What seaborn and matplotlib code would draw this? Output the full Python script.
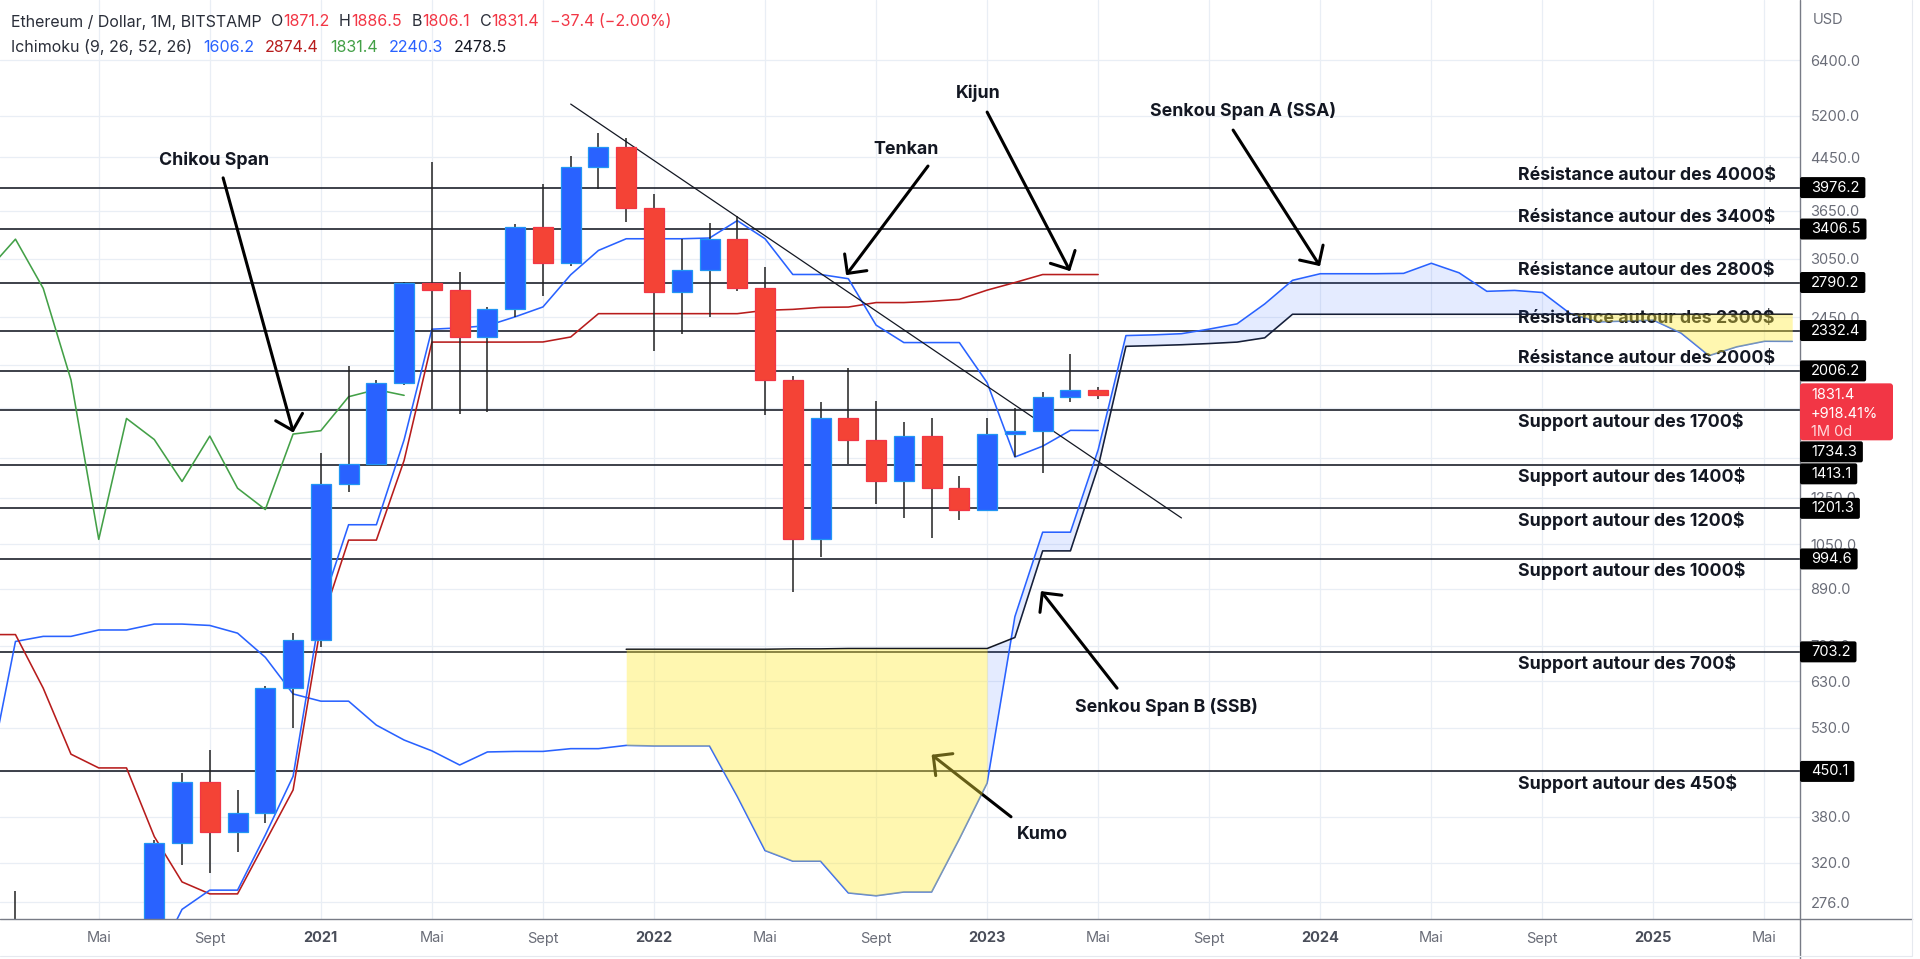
import numpy as np
import pandas as pd
import matplotlib
matplotlib.use("Agg")
import matplotlib.pyplot as plt
import seaborn as sns
from matplotlib.patches import FancyBboxPatch
from matplotlib.lines import Line2D
from matplotlib.transforms import IdentityTransform
from matplotlib.ticker import NullLocator

# ---------------- data ----------------
candle_start = "2020-02"
opens = [180, 217, 134, 207, 231, 226, 345, 433, 359, 385, 615, 735, 1315, 1420, 1918, 2780, 2710, 2280,
         2531, 3430, 3000, 4290, 4630, 3680, 2690, 2920, 3280, 2730, 1940, 1070, 1680, 1553, 1328, 1573,
         1295, 1196, 1585, 1605, 1822, 1871.2]
highs = [288, 254, 227, 246, 255, 348, 448, 487, 420, 620, 755, 1475, 2043, 1940, 2800, 4380, 2900, 2550,
         3470, 4030, 4470, 4870, 4780, 3880, 3280, 3480, 3580, 2960, 1970, 1785, 2030, 1790, 1660, 1680,
         1355, 1680, 1745, 1855, 2140, 1886.5]
lows = [177, 90, 128, 178, 216, 222, 318, 308, 333, 371, 530, 715, 1275, 1420, 1900, 1740, 1708, 1718,
        2450, 2650, 2970, 3950, 3500, 2160, 2300, 2450, 2700, 1700, 880, 1000, 1420, 1220, 1160, 1075,
        1150, 1190, 1455, 1372, 1785, 1806.1]
closes = [217, 134, 207, 231, 226, 345, 433, 359, 385, 615, 735, 1315, 1420, 1918, 2780, 2710, 2280, 2531,
          3430, 3000, 4290, 4630, 3680, 2690, 2920, 3280, 2730, 1940, 1070, 1680, 1553, 1328, 1573, 1295,
          1196, 1585, 1605, 1822, 1871.2, 1831.4]

tenkan_start = "2020-07"
tenkan = [219, 269, 289, 289, 355, 442, 826, 1130, 1130, 1552, 2344, 2356, 2375, 2455, 2547, 2872, 3145,
          3285, 3285, 3285, 3294, 3515, 3285, 2875, 2875, 2830, 2380, 2230, 2230, 2230, 1920, 1455, 1515,
          1607, 1606.2]
kijun_start = "2020-01"
kijun = [750, 750, 614, 480, 456, 456, 353, 298, 285, 285, 346, 420, 778, 1067, 1067, 1437, 2234, 2234,
         2234, 2234, 2235, 2277, 2484, 2484, 2484, 2484, 2484, 2484, 2515, 2524, 2543, 2546, 2589, 2589,
         2601, 2620, 2712, 2790, 2874.4, 2874.4, 2874.4]
chikou_start = "2020-01"
chikou = [2920, 3280, 2730, 1940, 1070, 1680, 1553, 1328, 1573, 1295, 1196, 1585, 1605, 1822, 1871.2, 1831.4]
ssa_start = "2020-01"
ssa = [433, 731, 745, 745, 763, 763, 780, 780, 776, 754, 689, 601, 585, 585, 535, 506, 486, 461, 484, 485,
       485, 490, 490, 496, 495, 495, 495, 410, 335, 322, 322, 286, 283, 287, 287, 350, 431, 802, 1099, 1099,
       1495, 2289, 2295, 2305, 2345, 2391, 2576, 2813, 2883, 2883, 2883, 2887, 2998, 2893, 2700, 2709, 2688,
       2485, 2410, 2416, 2425, 2310, 2124, 2195, 2241, 2240.3]
ssb_start = "2021-12"
ssb = [710, 710, 710, 710, 710, 710, 711, 711, 712, 712, 712, 712, 712, 712, 742, 1025, 1025, 1403, 2199,
       2205, 2212, 2222, 2234, 2270, 2478.5, 2478.5, 2478.5, 2478.5, 2478.5, 2478.5, 2478.5, 2478.5, 2478.5,
       2478.5, 2478.5, 2478.5, 2478.5, 2478.5, 2478.5, 2478.5, 2478.5, 2478.5, 2478.5]

level_values = [3976.2, 3406.5, 2790.2, 2332.4, 2006.2, 1734.3, 1413.1, 1201.3, 994.6, 703.2, 450.1]
level_texts = ["Résistance autour des 4000$", "Résistance autour des 3400$", "Résistance autour des 2800$",
               "Résistance autour des 2300$", "Résistance autour des 2000$", "Support autour des 1700$",
               "Support autour des 1400$", "Support autour des 1200$", "Support autour des 1000$",
               "Support autour des 700$", "Support autour des 450$"]
level_is_resistance = [True, True, True, True, True, False, False, False, False, False, False]

price_ticks = [6400, 5200, 4450, 3650, 3050, 2450, 2050, 1750, 1450, 1250, 1050, 890, 720, 630, 530, 450,
               380, 320, 276]
hidden_tick_labels = [2050, 1750, 1450, 450]   # fully covered by price boxes in the reference
x_tick_months = ["2020-05", "2020-09", "2021-01", "2021-05", "2021-09", "2022-01", "2022-05", "2022-09",
                 "2023-01", "2023-05", "2023-09", "2024-01", "2024-05", "2024-09", "2025-01", "2025-05"]
x_tick_labels = ["Mai", "Sept", "2021", "Mai", "Sept", "2022", "Mai", "Sept", "2023", "Mai", "Sept", "2024",
                 "Mai", "Sept", "2025", "Mai"]

trend_months = ["2021-10", "2023-08"]
trend_prices = [5430, 1159]

# annotations: positions in months since 2020-01
annot_labels = ["Chikou Span", "Tenkan", "Kijun", "Senkou Span A (SSA)", "Senkou Span B (SSB)", "Kumo"]
annot_text_m = [8.15, 33.08, 35.67, 45.22, 42.45, 37.98]
annot_text_p = [4405, 4590, 5656, 5290, 573, 356]
arrow_from_m = [8.48, 33.87, 36.0, 44.86, 40.68, 36.86]
arrow_from_p = [4123, 4309, 5270, 4928, 614, 380]
arrow_to_m = [11.01, 30.92, 38.99, 47.99, 37.94, 34.0]
arrow_to_p = [1594, 2868, 2911, 2966, 882, 479]

header1 = [("Ethereum / Dollar, 1M, BITSTAMP", "#2A2E39", 0), ("O", "#2A2E39", 9), ("1871.2", "#F23645", 0),
           ("H", "#2A2E39", 10), ("1886.5", "#F23645", 0), ("B", "#2A2E39", 10), ("1806.1", "#F23645", 0),
           ("C", "#2A2E39", 10), ("1831.4", "#F23645", 0), ("\u221237.4 (\u22122.00%)", "#F23645", 11)]
header2 = [("Ichimoku (9, 26, 52, 26)", "#2A2E39", 0), ("1606.2", "#2962FF", 11), ("2874.4", "#B71C1C", 11),
           ("1831.4", "#43A047", 11), ("2240.3", "#2962FF", 11), ("2478.5", "#131722", 11)]
last_label = ["1831.4", "+918.41%", "1M 0d"]

# ---------------- helpers ----------------
BASE = pd.Period("2020-01", "M")


def mi(s):
    return (pd.Period(s, "M") - BASE).n


def xs_from(start, arr):
    return np.arange(len(arr)) + mi(start)


UP, DOWN = "#2962FF", "#F44336"
UP_EDGE, DOWN_EDGE = "#2196F3", "#F23645"

sns.set_theme(style="white")
plt.rcParams["font.family"] = ["Inter", "DejaVu Sans"]
plt.rcParams["axes.unicode_minus"] = True

W, H = 1920, 959
fig = plt.figure(figsize=(W / 100, H / 100), dpi=100)
fig.patch.set_facecolor("white")
ax = fig.add_axes([0, 40 / H, 1800 / W, 919 / H])
ax.set_facecolor("white")
ax.set_yscale("log")
ax.set_ylim(259.5, 8007)
ax.set_xlim(0.443, 65.28)

# grid and ticks
ax.set_axisbelow(True)
ax.set_yticks(price_ticks)
ax.yaxis.set_minor_locator(NullLocator())
ax.set_yticklabels(["" if t in hidden_tick_labels else f"{t:.1f}" for t in price_ticks])
xt = [mi(m) for m in x_tick_months]
ax.set_xticks(xt)
ax.set_xticklabels(x_tick_labels)
ax.grid(True, color="#E9EEF5", lw=0.9)
ax.yaxis.tick_right()
ax.tick_params(axis="y", length=0, pad=7.5, labelsize=10.5, labelcolor="#6A6D78")
ax.tick_params(axis="x", length=0, pad=9, labelsize=10.5, labelcolor="#6A6D78")
for lab, txt in zip(ax.get_xticklabels(), x_tick_labels):
    if txt.isdigit():
        lab.set_fontweight("bold")
        lab.set_color("#4A4E5A")
for s in ax.spines.values():
    s.set_visible(False)

# horizontal levels
for v, t, res in zip(level_values, level_texts, level_is_resistance):
    ax.axhline(v, color="#131722", lw=1.15, zorder=2)
    ax.annotate(t, xy=(1518 / 1800, v), xycoords=("axes fraction", "data"),
                xytext=(0, 8.6 if res else -8.6), textcoords="offset points",
                ha="left", va="center", fontsize=12.8, fontweight="bold", color="#131722", zorder=6)

# ichimoku lines
line_specs = [(ssa_start, ssa, "#2962FF"), (ssb_start, ssb, "#131722"),
              (kijun_start, kijun, "#B71C1C"), (tenkan_start, tenkan, "#2962FF"),
              (chikou_start, chikou, "#43A047")]
for start, arr, col in line_specs:
    sns.lineplot(x=xs_from(start, arr), y=arr, ax=ax, color=col, linewidth=1.15,
                 estimator=None, sort=False, legend=False, zorder=3)

# candles
cx = xs_from(candle_start, opens)
o = np.array(opens, float)
c = np.array(closes, float)
ax.vlines(cx, lows, highs, color="#222222", lw=1.1, zorder=4)
up = c >= o
bottoms = np.minimum(o, c)
heights = np.abs(c - o)
ax.bar(cx[up], heights[up], bottom=bottoms[up], width=0.72, color=UP, edgecolor=UP_EDGE, lw=0.9, zorder=5)
ax.bar(cx[~up], heights[~up], bottom=bottoms[~up], width=0.72, color=DOWN, edgecolor=DOWN_EDGE, lw=0.9,
       zorder=5)

# trend line
ax.plot([mi(m) for m in trend_months], trend_prices, color="#131722", lw=0.9, zorder=4)

# arrows and labels
for lab, tm, tp, fm, fp, em, ep in zip(annot_labels, annot_text_m, annot_text_p, arrow_from_m,
                                       arrow_from_p, arrow_to_m, arrow_to_p):
    ax.annotate("", xy=(em, ep), xytext=(fm, fp),
                arrowprops=dict(arrowstyle="->,head_length=0.5,head_width=0.5", lw=2.2, color="black",
                                shrinkA=0, shrinkB=0, mutation_scale=20), zorder=6)
    ax.text(tm, tp, lab, ha="center", va="center", fontsize=12.8, fontweight="bold", color="#131722",
            zorder=6)

# cloud fill (drawn on top, translucent)
sa = pd.Series(ssa, index=xs_from(ssa_start, ssa))
sb = pd.Series(ssb, index=xs_from(ssb_start, ssb))
ks = list(sb.index)
colors_seg = ["blue" if sa[ks[i]] >= sb[ks[i]] else "yellow" for i in range(1, len(ks))]
runs = []
start_i = 0
for i in range(1, len(colors_seg) + 1):
    if i == len(colors_seg) or colors_seg[i] != colors_seg[start_i]:
        runs.append((start_i, i, colors_seg[start_i]))
        start_i = i
for s_i, e_i, col in runs:
    kk = ks[s_i:e_i + 1]
    if col == "blue":
        ax.fill_between(kk, sa[kk].values, sb[kk].values, color="#2962FF", alpha=0.12, lw=0, zorder=7)
    else:
        ax.fill_between(kk, sa[kk].values, sb[kk].values, color="#FFEB3B", alpha=0.40, lw=0, zorder=7)

# frame lines
ID = IdentityTransform()
fig.add_artist(Line2D([0, 1912], [40, 40], transform=ID, color="#787B86", lw=1.0, zorder=4))
fig.add_artist(Line2D([1800, 1800], [0, H], transform=ID, color="#787B86", lw=1.0, zorder=4))
fig.add_artist(Line2D([1912, 1912], [3, H], transform=ID, color="#E6E9EF", lw=0.8, zorder=4))
fig.add_artist(Line2D([0, 1912], [3, 3], transform=ID, color="#E6E9EF", lw=0.8, zorder=4))

fig.text(1813, H - 20, "USD", transform=ID, fontsize=10.5, color="#6A6D78", va="center", ha="left")

# header texts
fig.canvas.draw()
rend = fig.canvas.get_renderer()


def chain(pieces, y, size):
    x = 11
    for txt, col, gap in pieces:
        x += gap
        t = fig.text(x, y, txt, transform=ID, fontsize=size, color=col, va="center", ha="left", zorder=6)
        x += t.get_window_extent(rend).width


chain(header1, H - 22, 11.5)
chain(header2, H - 47, 11.5)


def ypx(v):
    return ax.transData.transform((1, v))[1]


# last price red box
yc = ypx(closes[-1])
red_top, red_bot = yc + 12, yc - 45
fig.add_artist(FancyBboxPatch((1800, red_bot), 93, red_top - red_bot,
                              boxstyle="round,pad=0,rounding_size=3", transform=ID,
                              fc="#F23645", ec="none", zorder=8))
for j, (txt, col) in enumerate(zip(last_label, ["white", "white", "#FFD9DC"])):
    fig.text(1811, yc - j * 18.5, txt, transform=ID, fontsize=10.5, color=col, va="center", ha="left",
             zorder=9)

occupied = [(red_bot, red_top)]
for v in sorted(level_values, reverse=True):
    c_y = ypx(v)
    top, bot = c_y + 10.5, c_y - 10.5
    moved = True
    while moved:
        moved = False
        for b, t in occupied:
            if bot < t and top > b:
                top = b - 1
                bot = top - 21
                moved = True
    occupied.append((bot, top))
    tt = fig.text(1811, (top + bot) / 2, f"{v:.1f}", transform=ID, fontsize=10.5, color="white",
                  va="center", ha="left", zorder=9)
    tw = tt.get_window_extent(rend).width
    fig.add_artist(FancyBboxPatch((1800, bot), tw + 17, 21, boxstyle="round,pad=0,rounding_size=2",
                                  transform=ID, fc="black", ec="none", zorder=8))

fig.savefig("out.png", dpi=100, facecolor="white")
